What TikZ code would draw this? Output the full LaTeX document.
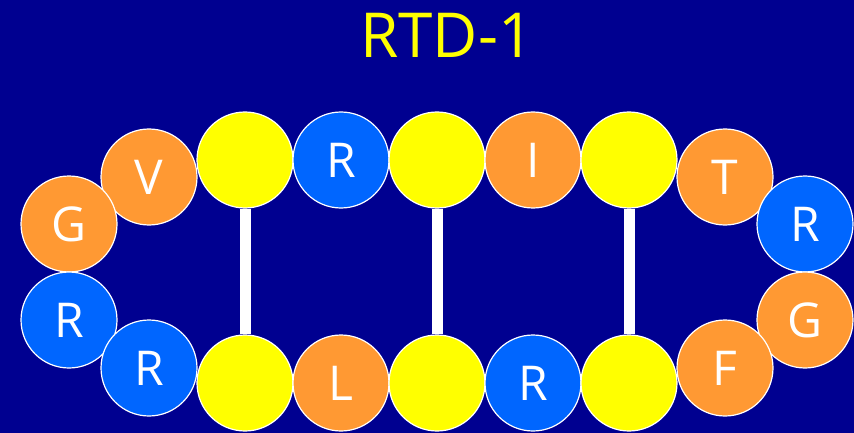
\documentclass[tikz,border=0pt]{standalone}
\usepackage{fontspec}
\setmainfont{Open Sans}
\definecolor{bgblue}{RGB}{0,0,144}
\definecolor{aaorange}{RGB}{255,153,51}
\definecolor{aablue}{RGB}{0,102,255}
\definecolor{aayellow}{RGB}{255,255,0}
\begin{document}
\begin{tikzpicture}[x=1pt,y=-1pt,
	res/.style = {draw=white, line width=1.2pt, circle, minimum size=96pt, inner sep=0pt, text=white, font=\fontsize{48}{48}\selectfont},
	hyd/.style = {res, fill=aaorange},
	basic/.style = {res, fill=aablue},
	cys/.style = {res, fill=aayellow},
	bond/.style = {draw=white, line width=11pt}]
	\fill[bgblue] (0,0) rectangle (854,433);
	\useasboundingbox (0,0) rectangle (854,433);
	\node[text=aayellow, font=\fontsize{62}{62}\selectfont] (title) at (447,35) {RTD-1};
	% top strand
	\node[cys] (c1) at (245,160) {};
	\node[basic] (r1) at (341,160) {R};
	\node[cys] (c2) at (437,160) {};
	\node[hyd] (i1) at (533,160) {I};
	\node[cys] (c3) at (629,160) {};
	% bottom strand
	\node[cys] (c6) at (245,383) {};
	\node[hyd] (l1) at (341,383) {L};
	\node[cys] (c5) at (437,383) {};
	\node[basic] (r2) at (533,383) {R};
	\node[cys] (c4) at (629,383) {};
	% left turn
	\node[hyd] (v1) at (149,177) {V};
	\node[hyd] (g1) at (69,224) {G};
	\node[basic] (r3) at (69,320) {R};
	\node[basic] (r4) at (149,368) {R};
	% right turn
	\node[hyd] (t1) at (725,177) {T};
	\node[basic] (r5) at (805,224) {R};
	\node[hyd] (g2) at (805,320) {G};
	\node[hyd] (f1) at (725,368) {F};
	% disulfide bonds
	\draw[bond] (c1) -- (c6);
	\draw[bond] (c2) -- (c5);
	\draw[bond] (c3) -- (c4);
\end{tikzpicture}
\end{document}
